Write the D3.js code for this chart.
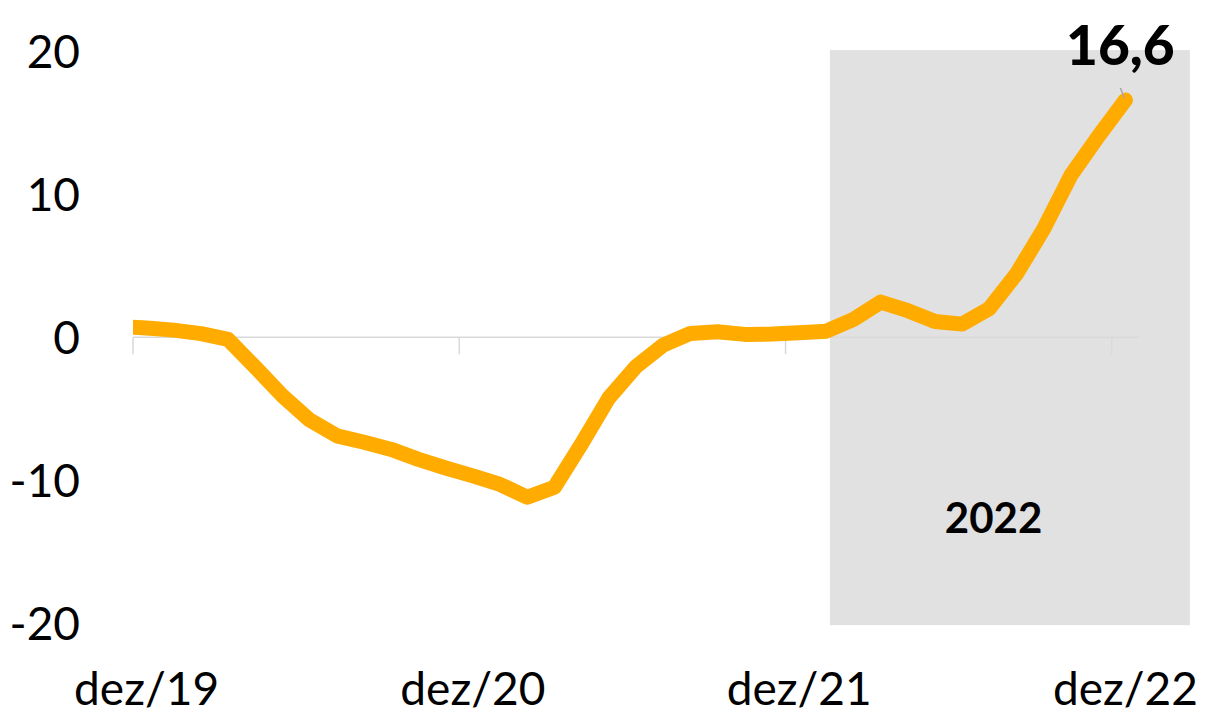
<!DOCTYPE html>
<html>
<head>
<meta charset="utf-8">
<script src="https://cdn.jsdelivr.net/npm/d3@7"></script>
<style>
  body { margin: 0; background: #fff; }
  text { font-family: Lato, "Open Sans", sans-serif; fill: #000; }
</style>
</head>
<body>
<div id="chart"></div>
<script>
// months shown on the axis: dez/19 .. dez/22 (37 categories)
const months = ["dez/19","jan/20","fev/20","mar/20","abr/20","mai/20","jun/20","jul/20","ago/20","set/20","out/20","nov/20",
  "dez/20","jan/21","fev/21","mar/21","abr/21","mai/21","jun/21","jul/21","ago/21","set/21","out/21","nov/21",
  "dez/21","jan/22","fev/22","mar/22","abr/22","mai/22","jun/22","jul/22","ago/22","set/22","out/22","nov/22","dez/22"];
// the series starts one month earlier (nov/19), cut at the plot edge
const prevValue = 0.75;
const values = [0.65, 0.5, 0.25, -0.15, -2.1, -4.1, -5.8, -6.9, -7.35, -7.85, -8.55, -9.15,
  -9.7, -10.3, -11.2, -10.5, -7.45, -4.25, -2.05, -0.55, 0.27, 0.39, 0.2, 0.22,
  0.32, 0.42, 1.25, 2.46, 1.86, 1.1, 0.92, 2.02, 4.45, 7.6, 11.35, 14.05, 16.6];
const tickLabels = ["dez/19", "dez/20", "dez/21", "dez/22"];
const yTicks = [20, 10, 0, -10, -20];
const shadeLabel = "2022";
const lastLabel = "16,6";

const width = 1205, height = 716;
const plot = {left: 133, right: 1139, top: 51.5, bottom: 623};

const svg = d3.select("#chart").append("svg")
  .attr("width", width)
  .attr("height", height);

// x: category index, points at index + 0.5
const x = d3.scaleLinear().domain([0, months.length]).range([plot.left, plot.right]);
const y = d3.scaleLinear().domain([-20, 20]).range([plot.bottom, plot.top]);

// shaded 2022 box
svg.append("rect")
  .attr("x", x(25.63))
  .attr("y", y(20.1))
  .attr("width", x(38.87) - x(25.63))
  .attr("height", y(-20.15) - y(20.1))
  .style("fill", "#e1e1e1");

// zero line + ticks
svg.append("line")
  .attr("x1", x(0)).attr("x2", x(months.length))
  .attr("y1", y(0)).attr("y2", y(0))
  .style("stroke", "#d9d9d9").style("stroke-width", 1.5);

const tickIdx = months.map((m, i) => i).filter(i => tickLabels.includes(months[i]));
svg.selectAll(".xtick").data(tickIdx).enter().append("line")
  .attr("class", "xtick")
  .attr("x1", d => x(d)).attr("x2", d => x(d))
  .attr("y1", y(0)).attr("y2", y(0) + 17)
  .style("stroke", "#d9d9d9").style("stroke-width", 1.5);

svg.selectAll(".xlab").data(tickIdx).enter().append("text")
  .attr("class", "xlab")
  .attr("x", d => x(d + 0.5))
  .attr("y", 705)
  .attr("text-anchor", "middle")
  .style("font-size", "46px")
  .text(d => months[d]);

svg.selectAll(".ylab").data(yTicks).enter().append("text")
  .attr("class", "ylab")
  .attr("x", 80)
  .attr("y", d => y(d) + 16.5)
  .attr("text-anchor", "end")
  .style("font-size", "46px")
  .text(d => d);

// line, clipped to the plot area
svg.append("clipPath").attr("id", "clip")
  .append("rect")
  .attr("x", plot.left).attr("y", 0)
  .attr("width", width - plot.left).attr("height", height);

const series = [{i: -1, v: prevValue}].concat(values.map((v, i) => ({i: i, v: v})));
const line = d3.line().x(d => x(d.i + 0.5)).y(d => y(d.v));

svg.append("path")
  .datum(series)
  .attr("clip-path", "url(#clip)")
  .attr("d", line)
  .style("fill", "none")
  .style("stroke", "#ffab00")
  .style("stroke-width", 15)
  .style("stroke-linejoin", "round")
  .style("stroke-linecap", "round");

// label of last point
const lastI = values.length - 1;
svg.append("line")
  .attr("x1", x(lastI + 0.5) - 5).attr("y1", y(values[lastI]) - 12)
  .attr("x2", x(lastI + 0.5) - 1).attr("y2", y(values[lastI]) - 2)
  .style("stroke", "#a6a6a6").style("stroke-width", 1.5);

svg.append("text")
  .attr("x", x(lastI + 0.5) - 5)
  .attr("y", y(values[lastI]) - 35)
  .attr("text-anchor", "middle")
  .style("font-size", "55px")
  .style("font-weight", "900")
  .text(lastLabel);

svg.append("text")
  .attr("x", x(31.65))
  .attr("y", 533)
  .attr("text-anchor", "middle")
  .style("font-size", "42px")
  .style("font-weight", "bold")
  .text(shadeLabel);
</script>
</body>
</html>
